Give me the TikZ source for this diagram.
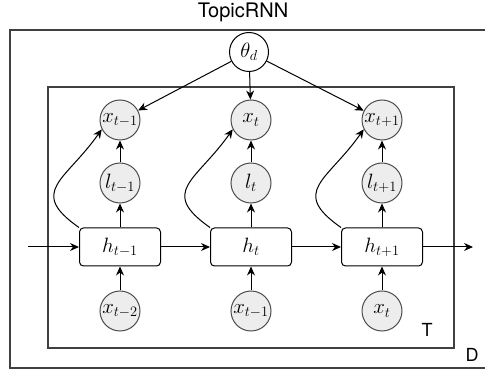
\documentclass[tikz,border=0pt]{standalone}
\usepackage{fontspec}
\setsansfont{TeX Gyre Heros}
\usetikzlibrary{positioning,arrows.meta}
\newcommand{\mlab}[1]{\makebox[0pt]{$#1$}}

\begin{document}
\begin{tikzpicture}[x=1pt,y=1pt,>={Stealth[length=9,width=8]},line width=1]
                    \tikzstyle{every node}=[inner sep=0,font=\fontsize{21}{25}\selectfont]
                    \tikzstyle{obs}=[circle,draw=black!70,fill=black!7,minimum size=40]
                    \tikzstyle{topic}=[circle,draw,fill=white,minimum size=39]
                    \tikzstyle{cell}=[rectangle,draw,rounded corners=4,minimum width=81,minimum height=38]
                    \tikzstyle{plate}=[draw=black!75,line width=1.2]
                    \tikzstyle{lab}=[font=\sffamily\fontsize{18}{20}\selectfont]
                    {
                        \useasboundingbox (0,0) rectangle (485,-371);

                        % plates
                        \node[lab,font=\sffamily\fontsize{20}{23}\selectfont] (title) at (243,-12) {TopicRNN};
                        \draw[plate] (10,-30) rectangle (492,-368);
                        \draw[plate] (48,-87) rectangle (454,-348);
                        \node[lab] (tlab) at (427,-330) {T};
                        \node[lab] (dlab) at (472,-355) {D};

                        % hidden chain
                        \node[cell] (h2) at (251,-247) {$h_t$};
                        \node[cell,node distance=131] (h1) [left of=h2] {$h_{t-1}$};
                        \node[cell,node distance=131] (h3) [right of=h2] {$h_{t+1}$};

                        \node[obs,node distance=64] (l1) [above of=h1] {\mlab{l_{t-1}}};
                        \node[obs,node distance=64] (l2) [above of=h2] {\mlab{l_t}};
                        \node[obs,node distance=64] (l3) [above of=h3] {\mlab{l_{t+1}}};
                        \node[obs,node distance=63] (xa1) [above of=l1] {\mlab{x_{t-1}}};
                        \node[obs,node distance=63] (xa2) [above of=l2] {\mlab{x_t}};
                        \node[obs,node distance=63] (xa3) [above of=l3] {\mlab{x_{t+1}}};
                        \node[obs,node distance=64] (xb1) [below of=h1] {\mlab{x_{t-2}}};
                        \node[obs,node distance=64] (xb2) [below of=h2] {\mlab{x_{t-1}}};
                        \node[obs,node distance=64] (xb3) [below of=h3] {\mlab{x_t}};

                        \node[topic] (theta) at (249,-52) {$\theta_d$};

                        \coordinate (hin) at (28,-247);
                        \coordinate (hout) at (473,-247);

                        \path[->]
                            (hin) edge (h1)
                            (h1) edge (h2)
                            (h2) edge (h3)
                            (h3) edge (hout)
                            (theta) edge (xa1)
                            (theta) edge (xa2)
                            (theta) edge (xa3)
                            (h1) edge (l1)
                            (h2) edge (l2)
                            (h3) edge (l3)
                            (l1) edge (xa1)
                            (l2) edge (xa2)
                            (l3) edge (xa3)
                            (xb1) edge (h1)
                            (xb2) edge (h2)
                            (xb3) edge (h3);

                        \path[->]
                            (h1.north west) edge[out=145,in=235,looseness=1.6] (xa1.207)
                            (h2.north west) edge[out=145,in=235,looseness=1.6] (xa2.207)
                            (h3.north west) edge[out=145,in=235,looseness=1.6] (xa3.207);
                    }
                \end{tikzpicture}
\end{document}
